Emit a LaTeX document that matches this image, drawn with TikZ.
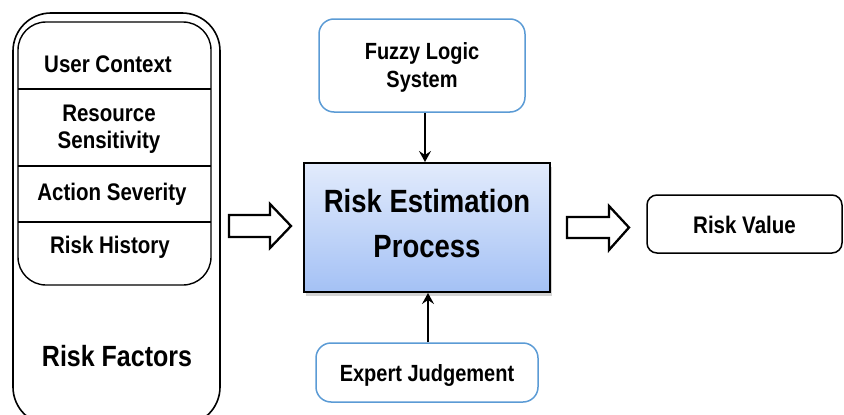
\documentclass[tikz,border=0pt]{standalone}
\usepackage{fontspec}
\setmainfont{Liberation Sans}
\usetikzlibrary{shadows,arrows.meta}
\definecolor{bborder}{HTML}{5B9BD5}
\definecolor{ptop}{HTML}{E2EBFC}
\definecolor{pbot}{HTML}{A4C1F5}
\newcommand{\tl}[1]{\scalebox{1}[1.17]{#1}}
\tikzset{
  itemtxt/.style={font=\fontsize{20.5}{27}\selectfont\bfseries, align=center, inner sep=0pt},
  bluebox/.style={draw=bborder, line width=1.5pt, rounded corners=15pt, fill=white, align=center,
    font=\fontsize{20}{28}\selectfont\bfseries},
  blockarrow/.style={draw=black, line width=2.3pt, fill=white, line join=miter},
  flow/.style={draw=black, line width=2.2pt, -{Stealth[length=11pt,width=12pt,inset=4pt]}}
}
\begin{document}
\begin{tikzpicture}[x=1pt,y=-1pt]
\useasboundingbox (0,0) rectangle (844,415);
% left group
\draw[line width=1.6pt, rounded corners=38pt] (13,13) rectangle (220,425);
\draw[line width=1.4pt, rounded corners=28pt] (18,22) rectangle (211,285);
\coordinate (d1l) at (18,89);  \coordinate (d1r) at (211,89);
\coordinate (d2l) at (18,166); \coordinate (d2r) at (211,166);
\coordinate (d3l) at (18,222); \coordinate (d3r) at (211,222);
\draw[line width=1.4pt] (d1l) -- (d1r) (d2l) -- (d2r) (d3l) -- (d3r);
\node[itemtxt] (uc) at (108,64) {\tl{User Context}};
\node[itemtxt] (rs) at (109,129) {\tl{Resource}\\\tl{Sensitivity}};
\node[itemtxt] (as) at (112,194) {\tl{Action Severity}};
\node[itemtxt] (rh) at (110,247) {\tl{Risk History}};
\node[itemtxt, font=\fontsize{25}{30}\selectfont\bfseries] (rf) at (117,356) {\tl{Risk Factors}};
% central process
\node[draw=black, line width=2pt, top color=ptop, bottom color=pbot,
      drop shadow={opacity=0.35, shadow xshift=2pt, shadow yshift=-4pt},
      minimum width=246pt, minimum height=129pt] (proc) at (427,227.5) {};
\node[align=center, inner sep=0pt, font=\fontsize{27.5}{45}\selectfont\bfseries] (proctxt) at (427,223) {\tl{Risk Estimation}\\\tl{Process}};
\node[bluebox, minimum width=206pt, minimum height=93pt] (fuzzy) at (422,65.5) {};
\node[align=center, inner sep=0pt, font=\fontsize{20}{28}\selectfont\bfseries] (fuzzytxt) at (422,67) {\tl{Fuzzy Logic}\\\tl{System}};
\node[bluebox, minimum width=222pt, minimum height=59pt] (exp) at (427,372.5) {};
\node[inner sep=0pt, font=\fontsize{20}{28}\selectfont\bfseries] (exptxt) at (427,375) {\tl{Expert Judgement}};
\node[draw=black, line width=1.5pt, rounded corners=10pt, minimum width=195pt, minimum height=58pt] (rv) at (744.5,224) {};
\node[inner sep=0pt, font=\fontsize{20.5}{26}\selectfont\bfseries] (rvtxt) at (744.5,225) {\tl{Risk Value}};
% connectors
\draw[flow] (fuzzy.south -| 425,0) -- (proc.north -| 425,0);
\draw[flow] (exp.north -| 428,0) -- (proc.south -| 428,0);
\draw[blockarrow] (229,215) -- (270,215) -- (270,204) -- (291,226) -- (270,248) -- (270,237) -- (229,237) -- cycle;
\draw[blockarrow] (567,217) -- (609,217) -- (609,206) -- (629,227.5) -- (609,250) -- (609,238) -- (567,238) -- cycle;
\end{tikzpicture}
\end{document}
